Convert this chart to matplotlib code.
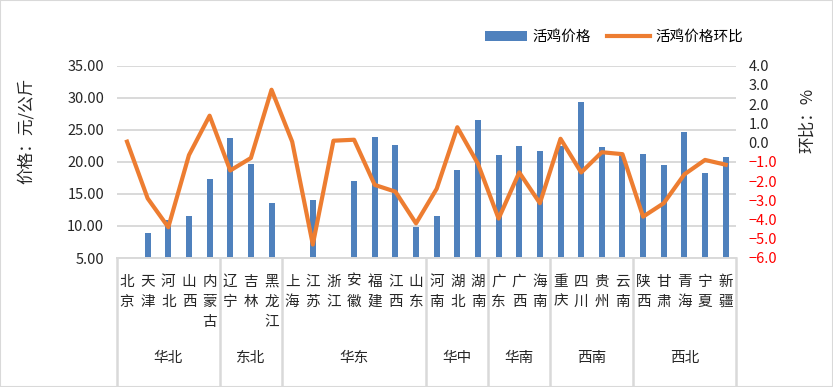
import numpy as np
import matplotlib
matplotlib.use("Agg")
import matplotlib.pyplot as plt
from matplotlib.patches import Rectangle

plt.rcParams['font.family'] = ['Noto Sans CJK SC', 'DejaVu Sans']
plt.rcParams['axes.unicode_minus'] = True

# Regions and the provinces in each
regions = ['华北', '东北', '华东', '华中', '华南', '西南', '西北']
region_sizes = [5, 3, 7, 3, 3, 4, 5]
provinces = ['北京', '天津', '河北', '山西', '内蒙古',
             '辽宁', '吉林', '黑龙江',
             '上海', '江苏', '浙江', '安徽', '福建', '江西', '山东',
             '河南', '湖北', '湖南',
             '广东', '广西', '海南',
             '重庆', '四川', '贵州', '云南',
             '陕西', '甘肃', '青海', '宁夏', '新疆']

# live chicken price (yuan/kg), missing bars as nan
price = [np.nan, 8.9, 10.9, 11.6, 17.3,
         23.75, 19.7, 13.6,
         np.nan, 14.05, np.nan, 17.0, 23.9, 22.65, 9.85,
         11.55, 18.75, 26.55,
         21.1, 22.5, 21.7,
         22.4, 29.4, 22.3, 20.9,
         21.25, 19.5, 24.7, 18.3, 20.8]

# month-on-month change (%)
mom = [0.05, -2.9, -4.4, -0.65, 1.4,
       -1.45, -0.8, 2.75,
       0.05, -5.3, 0.1, 0.15, -2.2, -2.55, -4.2,
       -2.4, 0.8, -1.1,
       -3.95, -1.55, -3.15,
       0.2, -1.55, -0.5, -0.6,
       -3.85, -3.15, -1.65, -0.9, -1.15]

left_ticks = [5, 10, 15, 20, 25, 30, 35]
right_ticks = [-6, -5, -4, -3, -2, -1, 0, 1, 2, 3, 4]

bar_color = '#4F81BD'
line_color = '#ED7D31'
grid_color = '#D9D9D9'

W, H = 833, 387
fig = plt.figure(figsize=(W / 100, H / 100), dpi=100)
ax = fig.add_axes([116.7 / W, 1 - 258 / H, (736 - 116.7) / W, (258 - 65.7) / H])

x = np.arange(len(provinces))
bars = ax.bar(x, price, width=0.29, color=bar_color, label='活鸡价格', zorder=2)
ax.set_xlim(-0.5, len(provinces) - 0.5)
ax.set_ylim(5, 35)
ax.set_yticks(left_ticks, labels=['%.2f' % v for v in left_ticks])
ax.yaxis.grid(True, color=grid_color, lw=1.4)
ax.set_axisbelow(True)
for s in ['left', 'right', 'top']:
    ax.spines[s].set_visible(False)
ax.spines['bottom'].set_color(grid_color)
ax.spines['bottom'].set_linewidth(1.4)
ax.tick_params(axis='y', length=0, pad=9, labelsize=10.5, labelcolor='#262626')

# vertical stacked province names
ax.set_xticks(x, labels=['\n'.join(p) for p in provinces])
ax.tick_params(axis='x', length=0, pad=12, labelsize=10.5, labelcolor='#262626')
for lab in ax.get_xticklabels():
    lab.set_linespacing(1.55)

# region labels and separators
bounds = np.concatenate([[0], np.cumsum(region_sizes)]) - 0.5
trans = ax.get_xaxis_transform()
ybot = -(385 - 258) / (258 - 65.7)
for b in bounds:
    ax.plot([b, b], [0, ybot], color=grid_color, lw=1.8, transform=trans, clip_on=False)
for i, r in enumerate(regions):
    cx = (bounds[i] + bounds[i + 1]) / 2
    ax.text(cx, -(358 - 258) / (258 - 65.7), r, transform=trans,
            ha='center', va='center', fontsize=10.5, color='#262626')

# MoM line on right axis
ax2 = ax.twinx()
line, = ax2.plot(x, mom, color=line_color, lw=3, solid_joinstyle='round',
                 label='活鸡价格环比', zorder=3)
ax2.set_ylim(-6, 4)
ax2.set_yticks(right_ticks, labels=[('%.1f' % v).replace('-', '\u2212') for v in right_ticks])
for lab, v in zip(ax2.get_yticklabels(), right_ticks):
    lab.set_color('red' if v < 0 else '#262626')
ax2.tick_params(axis='y', length=0, pad=9, labelsize=10.5)
for s in ax2.spines.values():
    s.set_visible(False)

fig.text(26 / W, 1 - 131 / H, '价格：元/公斤', rotation=90, ha='center', va='center',
         fontsize=12, color='#262626')
fig.text(808 / W, 1 - 120 / H, '环比：%', rotation=90, ha='center', va='center',
         fontsize=12, color='#262626')

fig.legend(handles=[bars, line], loc='center', bbox_to_anchor=(614 / W, 1 - 37 / H),
           ncol=2, frameon=False, fontsize=10.5, handlelength=2.9, handleheight=0.7,
           columnspacing=1.1, handletextpad=0.4)

fig.patches.append(Rectangle((0, 0), 1, 1, transform=fig.transFigure, fill=False,
                             edgecolor=grid_color, lw=1.5))

fig.savefig('out.png', dpi=100)
